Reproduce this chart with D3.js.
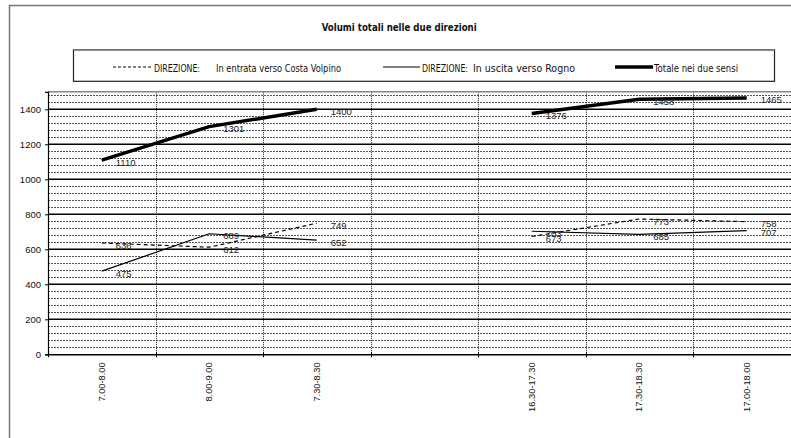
<!DOCTYPE html>
<html>
<head>
<meta charset="utf-8">
<script src="https://cdn.jsdelivr.net/npm/d3@7/dist/d3.min.js"></script>
<style>
  html, body { margin: 0; padding: 0; background: #fff; }
  svg { display: block; }
</style>
</head>
<body>
<svg id="chart" width="791" height="438"></svg>
<script>
// ---- data ----
const categories = ["7.00-8.00", "8.00-9.00", "7.30-8.30", "", "16.30-17.30", "17.30-18.30", "17.00-18.00"];
const inboundValues  = [636, 612, 749, null, 673, 773, 758];   // In entrata verso Costa Volpino
const outboundValues = [475, 689, 652, null, 703, 685, 707];   // In uscita verso Rogno
const totalValues    = [1110, 1301, 1400, null, 1376, 1458, 1465];
const yTicks = [0, 200, 400, 600, 800, 1000, 1200, 1400];
const titleText = "Volumi totali nelle due direzioni";
const legendLabels = [
  ["DIREZIONE:", "In entrata verso Costa Volpino"],
  ["DIREZIONE:", "In uscita verso Rogno"],
  ["", "Totale nei due sensi"]
];

// ---- layout ----
const svg = d3.select("#chart");
const W = 791, H = 438;
const plot = { left: 48, right: 800.5, top: 91.8, bottom: 354.3 };
const legendFont = "'Liberation Sans Narrow', 'DejaVu Sans Condensed', 'Liberation Sans', sans-serif";
const numFont = "'Liberation Sans', Arial, sans-serif";

svg.append("rect").attr("width", W).attr("height", H).attr("fill", "#fff");

// outer frame (extends beyond the visible area)
svg.append("rect").attr("x", 9.5).attr("y", 5.5).attr("width", 900).attr("height", 900)
  .attr("fill", "none").attr("stroke", "#777").attr("stroke-width", 1.5);

// title
svg.append("text").attr("x", 321.7).attr("y", 31)
  .attr("font-family", legendFont).attr("font-weight", "bold").attr("font-size", 10.5)
  .attr("fill", "#111")
  .attr("textLength", 155).attr("lengthAdjust", "spacingAndGlyphs")
  .text(titleText);

// legend box
svg.append("rect").attr("x", 73.5).attr("y", 49.8).attr("width", 701).attr("height", 31.5)
  .attr("fill", "#fff").attr("stroke", "#222").attr("stroke-width", 1.2);
svg.append("line").attr("x1", 73.5).attr("x2", 774.5).attr("y1", 49.8).attr("y2", 49.8)
  .attr("stroke", "#777").attr("stroke-width", 1.5);

const legendY = 67;
const legendItems = [
  { x1: 113, x2: 151, width: 1.2, dash: "3,2", dirX: 154, dirW: 46, labX: 216, labW: 125 },
  { x1: 383, x2: 420, width: 1.2, dash: null, dirX: 422, dirW: 46, labX: 473, labW: 102 },
  { x1: 615, x2: 653, width: 3.5, dash: null, dirX: null, dirW: 0, labX: 654, labW: 84 }
];
legendItems.forEach((it, i) => {
  svg.append("line").attr("x1", it.x1).attr("x2", it.x2).attr("y1", legendY).attr("y2", legendY)
    .attr("stroke", "#000").attr("stroke-width", it.width)
    .attr("stroke-dasharray", it.dash);
  if (legendLabels[i][0]) {
    svg.append("text").attr("x", it.dirX).attr("y", 72)
      .attr("font-family", legendFont).attr("font-size", 10).attr("fill", "#111")
      .attr("textLength", it.dirW).attr("lengthAdjust", "spacingAndGlyphs")
      .text(legendLabels[i][0]);
  }
  svg.append("text").attr("x", it.labX).attr("y", 72)
    .attr("font-family", legendFont).attr("font-size", 10).attr("fill", "#111")
    .attr("textLength", it.labW).attr("lengthAdjust", "spacingAndGlyphs")
    .text(legendLabels[i][1]);
});

// scales
const x = d3.scaleBand().domain(categories).range([plot.left, plot.right]).padding(0);
const y = d3.scaleLinear().domain([0, 1500]).range([plot.bottom, plot.top]);

const g = svg.append("g");

// minor gridlines every 40
const minorTicks = d3.range(40, 1500, 40).filter(v => v % 200 !== 0);
g.selectAll(".minor").data(minorTicks).join("line")
  .attr("x1", plot.left).attr("x2", plot.right)
  .attr("y1", d => Math.round(y(d)) + 0.5).attr("y2", d => Math.round(y(d)) + 0.5)
  .attr("stroke", "#555").attr("stroke-width", 1).attr("stroke-dasharray", "2,1");

// vertical dotted gridlines at category boundaries
const bounds = categories.slice(1).map(c => x(c));
g.selectAll(".vgrid").data(bounds).join("line")
  .attr("x1", d => Math.round(d) + 0.5).attr("x2", d => Math.round(d) + 0.5)
  .attr("y1", plot.top).attr("y2", plot.bottom)
  .attr("stroke", "#222").attr("stroke-width", 1).attr("stroke-dasharray", "1,1");

// major gridlines every 200
g.selectAll(".major").data(yTicks.filter(v => v > 0)).join("line")
  .attr("x1", plot.left).attr("x2", plot.right)
  .attr("y1", d => y(d)).attr("y2", d => y(d))
  .attr("stroke", "#000").attr("stroke-width", 1.5);

// plot top border
g.append("line").attr("x1", plot.left).attr("x2", plot.right)
  .attr("y1", plot.top).attr("y2", plot.top)
  .attr("stroke", "#888").attr("stroke-width", 1.5);

// y axis
const yAxis = d3.axisLeft(y).tickValues(yTicks).tickSize(3).tickPadding(4).tickFormat(d3.format("d"));
const yg = svg.append("g").attr("transform", `translate(${plot.left},0)`).call(yAxis);
yg.select(".domain").attr("stroke", "#000").attr("stroke-width", 1.2);
yg.selectAll(".tick line").attr("stroke", "#000");
yg.selectAll("text").attr("font-family", numFont).attr("font-size", 9.5).attr("fill", "#111");

// x axis
const xAxis = d3.axisBottom(x).tickSize(0).tickPadding(0);
const xg = svg.append("g").attr("transform", `translate(0,${plot.bottom})`).call(xAxis);
xg.select(".domain").attr("stroke", "#000").attr("stroke-width", 1.5);
xg.selectAll(".tick text")
  .attr("font-family", numFont).attr("font-size", 9.3).attr("fill", "#111")
  .attr("text-anchor", "end")
  .attr("transform", "translate(3,8) rotate(-90)")
  .attr("dy", 0).attr("x", 0).attr("y", 0);
// boundary tick marks
xg.selectAll(".btick").data([plot.left].concat(bounds)).join("line")
  .attr("x1", d => Math.round(d) + 0.5).attr("x2", d => Math.round(d) + 0.5)
  .attr("y1", -2).attr("y2", 3)
  .attr("stroke", "#000").attr("stroke-width", 1);

// lines
const cx = c => x(c) + x.bandwidth() / 2;
const line = d3.line()
  .defined(d => d.v != null)
  .x(d => cx(d.c)).y(d => y(d.v));

const series = [
  { vals: inboundValues, width: 1.2, dash: "4,3" },
  { vals: outboundValues, width: 1.2, dash: null },
  { vals: totalValues, width: 3.5, dash: null }
];
series.forEach(s => {
  const data = categories.map((c, i) => ({ c, v: s.vals[i] }));
  svg.append("path").datum(data)
    .attr("d", line)
    .attr("fill", "none").attr("stroke", "#000")
    .attr("stroke-width", s.width).attr("stroke-dasharray", s.dash)
    .attr("stroke-linejoin", "round");
});

// data labels
series.forEach(s => {
  const data = categories.map((c, i) => ({ c, v: s.vals[i] })).filter(d => d.v != null);
  svg.append("g").selectAll("text").data(data).join("text")
    .attr("x", d => cx(d.c) + 14)
    .attr("y", d => y(d.v) + 5.5)
    .attr("font-family", numFont).attr("font-size", 9.5).attr("fill", "#222")
    .text(d => d.v);
});
</script>
</body>
</html>
